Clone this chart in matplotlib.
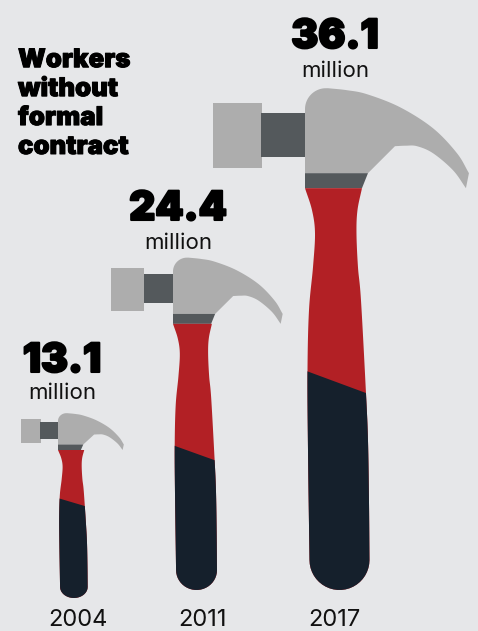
import numpy as np
import matplotlib.pyplot as plt
import matplotlib.patheffects as pe
from matplotlib.patches import Polygon

years = ['2004', '2011', '2017']
workers = [13.1, 24.4, 36.1]
navy_share = [0.518, 0.413, 0.415]
title = 'Workers\nwithout\nformal\ncontract'

BG = '#e6e7e9'
STEEL = '#adadad'
DARK = '#54595c'
RED = '#b22025'
NAVY = '#15202c'
PX = 13.9  # pixels per million workers

# layout of each hammer, pixels
left_px = [58, 173, 305]
base_px = [598, 590, 590]
fit = [1.015, 0.98, 1.0]
head_wide = [1.09, 1.01, 1.0]
handle_wide = [1.25, 1.03, 1.0]
number_x = [62, 178, 335]
number_y = [372, 220, 48]
million_y = [399, 249, 77]
year_x = [78, 203, 334]


def smooth(pts, n=12):
    # catmull-rom through the outline points
    pts = np.array(pts, dtype=float)
    p = np.vstack([2 * pts[0] - pts[1], pts, 2 * pts[-1] - pts[-2]])
    out = []
    for i in range(1, len(p) - 2):
        for t in np.linspace(0, 1, n, endpoint=False):
            out.append(0.5 * (2 * p[i] + (p[i + 1] - p[i - 1]) * t
                              + (2 * p[i - 1] - 5 * p[i] + 4 * p[i + 1] - p[i + 2]) * t ** 2
                              + (3 * p[i] - p[i - 1] - 3 * p[i + 1] + p[i + 2]) * t ** 3))
    out.append(p[-2])
    return np.array(out)


def arc(cx, cy, r, a0, a1, n=24):
    a = np.radians(np.linspace(a0, a1, n))
    return np.column_stack([cx + r * np.cos(a), cy - r * np.sin(a)])


def unit(pts):
    # outline traced on the 2017 hammer, turned into fractions of its height
    pts = np.array(pts, dtype=float)
    return np.column_stack([(pts[:, 0] - 305) / 502, (590 - pts[:, 1]) / 502])


head = unit(np.vstack([
    [[305, 173]],
    arc(326, 109, 21, 180, 95),
    smooth([(328, 88), (347, 90), (367, 94), (400, 107),
            (433, 128), (457, 153), (469, 173)]),
    [[466, 188]],
    smooth([(466, 188), (453, 170), (433, 153), (417, 146), (406, 145.5), (395, 146)]),
    [[368, 173]],
]))
collar = unit([(305, 173), (368, 173), (362, 188), (305, 188)])
face = unit([(213, 103), (262, 103), (262, 168), (213, 168)])
neck = unit([(261, 113), (305, 113), (305, 157), (261, 157)])
handle = unit(np.vstack([
    smooth([(305, 188), (312, 210), (315, 233), (313, 267), (309, 310), (307.5, 370),
            (308, 450), (309.5, 560)]),
    arc(339.5, 560, 30, 180, 360),
    smooth([(369.5, 560), (369, 500), (368, 440), (366, 393), (361, 300), (358, 267),
            (356.5, 233), (357.5, 210), (362, 188)]),
]))

fig = plt.figure(figsize=(4.78, 6.31), dpi=100, facecolor=BG)
ax = fig.add_axes([0, 0, 1, 1])
ax.set_xlim(0, 478 / PX)
ax.set_ylim(-631 / PX, 0)
ax.axis('off')

for i, value in enumerate(workers):
    size = value * fit[i]
    x0 = left_px[i] / PX
    y0 = -base_px[i] / PX

    def place(shape, wide):
        return np.column_stack([x0 + shape[:, 0] * size * wide, y0 + shape[:, 1] * size])

    for shape, color in [(face, STEEL), (neck, DARK), (head, STEEL), (collar, DARK)]:
        ax.add_patch(Polygon(place(shape, head_wide[i]), closed=True, fc=color, ec='none'))

    grip = Polygon(place(handle, handle_wide[i]), closed=True, fc=RED, ec='none')
    ax.add_patch(grip)
    # lower part of the handle, slanted cut
    s = navy_share[i]
    lower = np.array([(-0.1, s + 0.0225 + 0.1 * 0.37), (0.3, s + 0.0225 - 0.3 * 0.37), (0.3, -0.1), (-0.1, -0.1)])
    low = Polygon(place(lower, handle_wide[i]), closed=True, fc=NAVY, ec='none')
    ax.add_patch(low)
    low.set_clip_path(grip)

    fig.text(number_x[i] / 478, 1 - number_y[i] / 631, f'{value:.1f}', ha='center', va='baseline',
             family='Inter', fontweight=900, fontsize=29, color='black',
             path_effects=[pe.withStroke(linewidth=1.5, foreground='black')])
    fig.text(number_x[i] / 478, 1 - million_y[i] / 631, 'million', ha='center', va='baseline',
             family='Inter', fontsize=16, color='#111111')
    fig.text(year_x[i] / 478, 1 - 626 / 631, years[i], ha='center', va='baseline',
             family='Inter', fontsize=17, color='#111111')

fig.text(18 / 478, 1 - 154 / 631, title, ha='left', va='baseline', linespacing=1.33,
         family='Inter', fontweight=900, fontsize=18.5, color='black',
         path_effects=[pe.withStroke(linewidth=0.7, foreground='black')])

fig.savefig('out.png', dpi=100, facecolor=BG)
